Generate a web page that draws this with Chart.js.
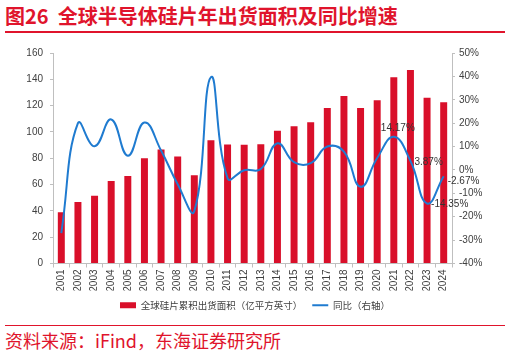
<!DOCTYPE html>
<html>
<head>
<meta charset="utf-8">
<script src="https://cdn.jsdelivr.net/npm/chart.js@4"></script>
<style>
  body { margin: 0; width: 510px; height: 354px; background: #fff; position: relative; overflow: hidden; }
  #title { position: absolute; left: 5px; top: 1px; font: bold 20px "Noto Sans CJK SC", sans-serif; color: #e0142c; white-space: nowrap; }
  #topline { position: absolute; left: 5px; top: 31px; width: 500px; height: 2px; background: #e0142c; }
  #box { position: absolute; left: 0; top: 40px; width: 510px; height: 280px; }
  #botline { position: absolute; left: 5px; top: 325px; width: 500px; height: 1px; background: #e0142c; }
  #source { position: absolute; left: 5px; top: 327px; font: 18px "Noto Sans CJK SC", sans-serif; color: #e0142c; white-space: nowrap; }
</style>
</head>
<body>
<div id="title">图26&nbsp;&nbsp;全球半导体硅片年出货面积及同比增速</div>
<div id="topline"></div>
<div id="box"><canvas id="chart"></canvas></div>
<div id="botline"></div>
<div id="source">资料来源：iFind，东海证券研究所</div>
<script>
const years = ["2001","2002","2003","2004","2005","2006","2007","2008","2009","2010","2011","2012",
               "2013","2014","2015","2016","2017","2018","2019","2020","2021","2022","2023","2024"];
// 全球硅片累积出货面积（亿平方英寸）
const area = [38.97, 46.77, 51.49, 62.62, 66.45, 79.96, 86.61, 81.37, 67.07, 93.70, 90.43, 90.31,
              90.67, 100.98, 104.34, 107.38, 118.10, 127.32, 118.10, 124.07, 141.65, 147.13, 126.02, 122.66];
// 同比（%）
const yoy = [-27.0, 20.0, 10.1, 21.6, 6.1, 20.3, 8.3, -6.1, -17.6, 39.7, -3.5, -0.1,
             0.4, 11.4, 3.3, 2.9, 10.0, 7.8, -7.2, 5.1, 14.17, 3.87, -14.35, -2.67];
const labelIdx = [20, 21, 22, 23];

const red = "#d90f2a";
const blue = "#1f7bd0";
const tickFont = { family: "'Liberation Sans', Arial, sans-serif", size: 10 };

// value labels on the last few points of the line
const pointLabels = {
    id: "pointLabels",
    afterDatasetsDraw(chart) {
        const ctx = chart.ctx;
        const meta = chart.getDatasetMeta(1);
        ctx.save();
        ctx.font = "10px 'Liberation Sans', Arial, sans-serif";
        ctx.fillStyle = "#333";
        ctx.textBaseline = "middle";
        labelIdx.forEach((i) => {
            const pt = meta.data[i];
            const txt = yoy[i].toFixed(2) + "%";
            if (i === 20) {
                ctx.textAlign = "center";
                ctx.fillText(txt, pt.x + 4, pt.y - 9);
            } else {
                ctx.textAlign = "left";
                const dy = i === 23 ? 5 : 1;
                ctx.fillText(txt, pt.x + 4, pt.y + dy);
            }
        });
        ctx.restore();
    },
};

new Chart(document.getElementById("chart"), {
    data: {
        labels: years,
        datasets: [
            {
                type: "bar",
                label: "全球硅片累积出货面积（亿平方英寸）",
                data: area,
                backgroundColor: red,
                yAxisID: "y",
                barPercentage: 0.42,
                categoryPercentage: 1,
                order: 2,
            },
            {
                type: "line",
                label: "同比（右轴）",
                data: yoy,
                borderColor: blue,
                backgroundColor: blue,
                borderWidth: 2,
                pointRadius: 0,
                tension: 0.45,
                yAxisID: "y1",
                order: 1,
            },
        ],
    },
    options: {
        responsive: true,
        maintainAspectRatio: false,
        animation: false,
        layout: { padding: { top: 9, left: 0, right: 0, bottom: 0 } },
        plugins: {
            legend: {
                position: "bottom",
                labels: {
                    usePointStyle: true,
                    pointStyleWidth: 16,
                    boxHeight: 6,
                    padding: 10,
                    color: "#404040",
                    font: { family: "'Noto Sans CJK SC', sans-serif", size: 9.5 },
                    generateLabels(chart) {
                        return chart.data.datasets.map((ds, i) => ({
                            text: ds.label,
                            fillStyle: ds.type === "bar" ? red : blue,
                            strokeStyle: ds.type === "bar" ? red : blue,
                            lineWidth: ds.type === "bar" ? 0 : 2,
                            pointStyle: ds.type === "bar" ? "rect" : "line",
                            datasetIndex: i,
                            fontColor: "#404040",
                        }));
                    },
                },
            },
            tooltip: { enabled: false },
        },
        scales: {
            x: {
                grid: { display: true, drawOnChartArea: false, tickLength: 4, color: "#bfbfbf" },
                border: { color: "#bfbfbf" },
                ticks: { color: "#404040", font: tickFont, maxRotation: 90, minRotation: 90, padding: 2 },
                afterFit(scale) { scale.height = 27; },
            },
            y: {
                position: "left",
                min: 0,
                max: 160,
                ticks: { stepSize: 20, color: "#404040", font: tickFont, padding: 7 },
                grid: { drawOnChartArea: false, tickLength: 3, color: "#bfbfbf" },
                border: { color: "#bfbfbf" },
                afterFit(scale) { scale.width = 53; },
            },
            y1: {
                position: "right",
                min: -40,
                max: 50,
                ticks: { stepSize: 10, color: "#404040", font: tickFont, padding: 4, callback: (v) => v + "%" },
                grid: { drawOnChartArea: false, tickLength: 3, color: "#bfbfbf" },
                border: { color: "#bfbfbf" },
                afterFit(scale) { scale.width = 58; },
            },
        },
    },
    plugins: [pointLabels],
});
</script>
</body>
</html>
